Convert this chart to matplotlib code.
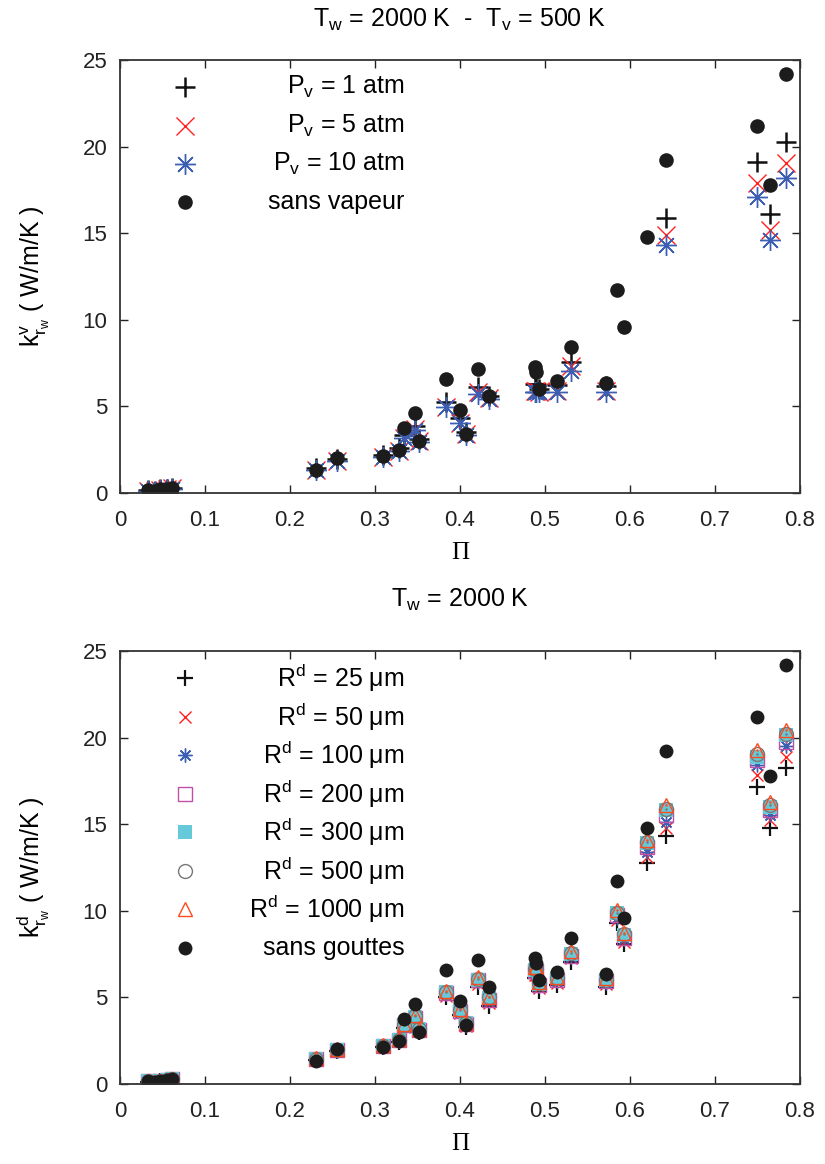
import numpy as np
import matplotlib
matplotlib.use("Agg")
import matplotlib.pyplot as plt
from matplotlib.lines import Line2D

plt.rcParams['font.family'] = ['Liberation Sans', 'DejaVu Sans']
plt.rcParams['mathtext.fontset'] = 'custom'
plt.rcParams['mathtext.rm'] = 'Liberation Sans'
plt.rcParams['mathtext.it'] = 'Liberation Sans'

nan = np.nan

# shared abscissa (Pi) for every case
pi_vals = [0.033, 0.041, 0.047, 0.055, 0.061, 0.231, 0.255, 0.309, 0.3286, 0.3345,
           0.347, 0.352, 0.383, 0.400, 0.407, 0.4216, 0.4345, 0.488, 0.489, 0.493,
           0.5145, 0.531, 0.5718, 0.585, 0.593, 0.620, 0.642, 0.749, 0.765, 0.784]

# reference without vapour / droplets
k_sans = [0.15, 0.12, 0.20, 0.25, 0.30, 1.35, 2.00, 2.14, 2.48, 3.73,
          4.64, 3.02, 6.56, 4.77, 3.41, 7.16, 5.62, 7.29, 6.97, 5.99,
          6.45, 8.41, 6.33, 11.72, 9.60, 14.80, 19.23, 21.19, 17.77, 24.20]

# top panel: vapour pressure
k_p1 = [0.15, 0.12, 0.20, 0.25, 0.30, 1.45, 1.95, 2.20, 2.60, 3.35,
        3.85, 3.10, 5.25, 4.30, 3.50, 6.10, 5.60, 6.30, 6.30, 6.00,
        6.25, 7.55, 6.20, nan, nan, nan, 15.90, 19.10, 16.13, 20.28]
k_p5 = [0.12, 0.10, 0.18, 0.22, 0.27, 1.35, 1.85, 2.10, 2.45, 3.20,
        3.70, 3.00, 4.95, 4.05, 3.40, 5.80, 5.50, 5.90, 5.90, 5.85,
        5.90, 7.35, 5.90, nan, nan, nan, 14.90, 17.88, 15.18, 19.03]
k_p10 = [0.10, 0.08, 0.15, 0.20, 0.25, 1.33, 1.83, 2.08, 2.42, 3.15,
         3.64, 2.95, 4.95, 4.02, 3.35, 5.72, 5.45, 5.82, 5.82, 5.80,
         5.82, 7.05, 5.80, nan, nan, nan, 14.30, 17.10, 14.60, 18.17]
labels_top = ['P$_\\mathregular{v}$ = 1 atm', 'P$_\\mathregular{v}$ = 5 atm',
              'P$_\\mathregular{v}$ = 10 atm', 'sans vapeur']

# bottom panel: droplet radius
k_r25 = [0.12, 0.10, 0.16, 0.22, 0.26, 1.38, 1.88, 2.12, 2.45, 3.25,
         3.60, 3.00, 5.00, 4.00, 3.30, 5.60, 4.50, 6.10, 6.10, 5.35,
         5.72, 7.07, 5.60, 9.28, 8.07, 12.74, 14.34, 17.17, 14.76, 18.26]
k_r50 = [0.13, 0.11, 0.17, 0.23, 0.27, 1.40, 1.90, 2.14, 2.48, 3.30,
         3.70, 3.05, 5.10, 4.10, 3.35, 5.80, 4.70, 6.30, 6.30, 5.55,
         5.85, 7.25, 5.75, 9.45, 8.20, 13.13, 14.76, 17.84, 15.24, 18.90]
k_r100 = [0.14, 0.12, 0.18, 0.24, 0.28, 1.42, 1.92, 2.16, 2.50, 3.35,
          3.78, 3.10, 5.20, 4.15, 3.40, 5.90, 4.80, 6.45, 6.45, 5.65,
          5.95, 7.35, 5.85, 9.60, 8.35, 13.40, 15.14, 18.42, 15.53, 19.50]
k_r200 = [0.15, 0.13, 0.19, 0.25, 0.29, 1.44, 1.94, 2.18, 2.52, 3.38,
          3.83, 3.13, 5.25, 4.20, 3.45, 5.98, 4.88, 6.55, 6.55, 5.72,
          6.02, 7.42, 5.92, 9.76, 8.41, 13.70, 15.53, 18.70, 15.80, 19.76]
k_r300 = [0.15, 0.13, 0.19, 0.25, 0.29, 1.46, 1.96, 2.20, 2.54, 3.40,
          3.89, 3.16, 5.30, 4.27, 3.50, 6.03, 4.95, 6.60, 6.60, 5.78,
          6.10, 7.49, 6.00, 9.85, 8.60, 13.90, 15.82, 18.90, 16.00, 20.15]
k_r500 = [0.16, 0.14, 0.20, 0.26, 0.30, 1.47, 1.97, 2.21, 2.55, 3.42,
          3.93, 3.18, 5.33, 4.30, 3.52, 6.08, 5.00, 6.65, 6.65, 5.82,
          6.13, 7.55, 6.03, 9.90, 8.65, 14.00, 15.90, 19.05, 16.10, 20.20]
k_r1000 = [0.16, 0.14, 0.20, 0.26, 0.30, 1.50, 2.00, 2.24, 2.58, 3.45,
           4.00, 3.20, 5.40, 4.35, 3.55, 6.20, 5.04, 6.77, 6.77, 5.90,
           6.20, 7.70, 6.10, 10.05, 8.70, 14.09, 16.10, 19.28, 16.30, 20.45]
radii = ['25', '50', '100', '200', '300', '500', '1000']

BLUE = '#3c5fb4'
RED = '#ff2020'
MAG = '#c04fa6'
CYAN = '#66c9d9'
GRAY = '#777777'
ORANGE = '#ff4a1c'
DOT = '#1c1c1c'


def style_axes(ax, ylabel):
    ax.set_xlim(0, 0.8)
    ax.set_ylim(0, 25)
    ax.set_xticks(np.arange(0, 0.81, 0.1))
    ax.set_xticklabels(['0', '0.1', '0.2', '0.3', '0.4', '0.5', '0.6', '0.7', '0.8'])
    ax.set_yticks([0, 5, 10, 15, 20, 25])
    ax.tick_params(direction='in', length=6, width=1, top=True, right=True,
                   labelsize=16, colors='#222222')
    ax.tick_params(axis='x', pad=12)
    ax.tick_params(axis='y', pad=9)
    for s in ax.spines.values():
        s.set_color('#333333')
        s.set_linewidth(1.3)
    ax.set_xlabel('Π', family=['Liberation Serif', 'DejaVu Serif'], fontsize=18, labelpad=8)
    ax.set_ylabel(ylabel, fontsize=18, labelpad=22)


def legend_row(ax, i, y0, dy, text, **kw):
    y = y0 - i * dy
    ax.add_line(Line2D([0.0956], [y], transform=ax.transAxes, linestyle='none',
                       clip_on=False, **kw))
    ax.text(0.418, y, text, transform=ax.transAxes, ha='right', va='center', fontsize=18)


fig = plt.figure(figsize=(8.25, 11.64), dpi=100)
ax1 = fig.add_axes([0.1455, 0.5765, 0.8242, 0.372])
ax2 = fig.add_axes([0.1455, 0.0687, 0.8242, 0.372])

# ---- top panel
s_p1 = dict(marker='+', color='#111111', ms=15, mew=1.8)
s_p5 = dict(marker='x', color=RED, ms=13, mew=1.0)
s_p10 = dict(marker=(8, 2, 0), color=BLUE, ms=15, mew=1.0)
s_dot = dict(marker='o', color=DOT, ms=10.5, mew=0)
for yv, st in zip([k_p1, k_p5, k_p10, k_sans], [s_p1, s_p5, s_p10, s_dot]):
    ax1.plot(pi_vals, yv, linestyle='none', **st)
style_axes(ax1, '$\\mathregular{k^{v}_{r_w}}$ ( W/m/K )')
ax1.set_title('T$_\\mathregular{w}$ = 2000 K  -  T$_\\mathregular{v}$ = 500 K',
              fontsize=18, pad=24)
for i, (lab, st) in enumerate(zip(labels_top, [s_p1, s_p5, s_p10, s_dot])):
    legend_row(ax1, i, 0.937, 0.0885, lab, **st)

# ---- bottom panel
b_styles = [dict(marker='+', color='#111111', ms=11, mew=1.6),
            dict(marker='x', color=RED, ms=9, mew=1.0),
            dict(marker=(8, 2, 0), color=BLUE, ms=10, mew=1.0),
            dict(marker='s', color=MAG, mfc='none', ms=10, mew=1.0),
            dict(marker='s', color=CYAN, ms=10, mew=0),
            dict(marker='o', color=GRAY, mfc='none', ms=10, mew=1.0),
            dict(marker='^', color=ORANGE, mfc='none', ms=10, mew=1.0)]
b_series = [k_r25, k_r50, k_r100, k_r200, k_r300, k_r500, k_r1000]
dot_cols = [None, None, None, MAG, None, GRAY, ORANGE]
for yv, st, dc in zip(b_series, b_styles, dot_cols):
    ax2.plot(pi_vals, yv, linestyle='none', **st)
    if dc:
        ax2.plot(pi_vals, yv, linestyle='none', marker='.', color=dc, ms=1.5)
ax2.plot(pi_vals, k_sans, linestyle='none', marker='o', color=DOT, ms=10, mew=0)
style_axes(ax2, '$\\mathregular{k^{d}_{r_w}}$ ( W/m/K )')
ax2.set_title('T$_\\mathregular{w}$ = 2000 K', fontsize=18, pad=32)
for i, (r, st) in enumerate(zip(radii, b_styles)):
    legend_row(ax2, i, 0.937, 0.0889, 'R$^\\mathregular{d}$ = ' + r + ' μm', **st)
legend_row(ax2, 7, 0.937, 0.0889, 'sans gouttes', marker='o', color=DOT, ms=10, mew=0)

fig.savefig('out.png', dpi=100)
